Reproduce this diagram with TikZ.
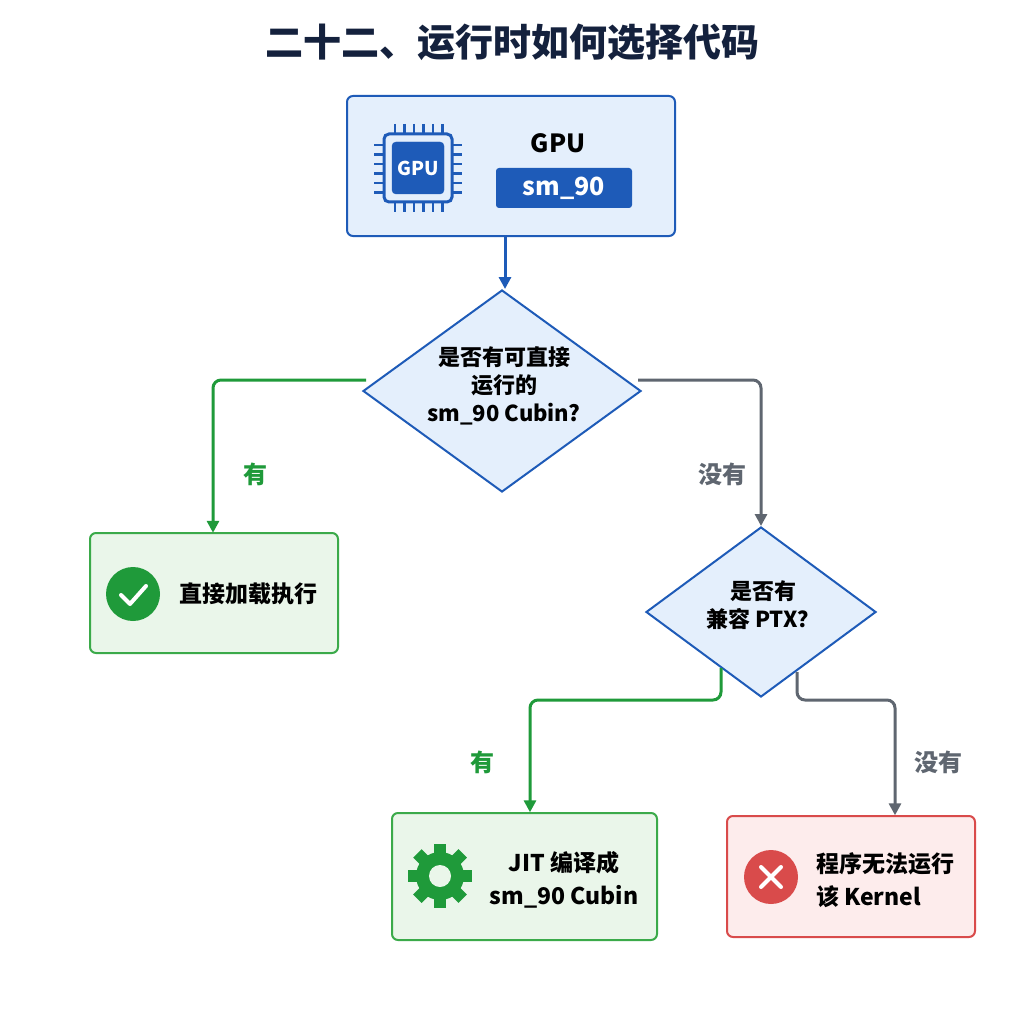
\documentclass[tikz,border=0pt]{standalone}
\usepackage{fontspec}
\setmainfont{Noto Sans CJK SC}
\usetikzlibrary{shapes.geometric,arrows.meta}
\definecolor{navy}{HTML}{14213D}
\definecolor{bfill}{HTML}{E4EFFC}
\definecolor{bline}{HTML}{1E5BB8}
\definecolor{gfill}{HTML}{EAF6EA}
\definecolor{gline}{HTML}{3BAA4A}
\definecolor{gdark}{HTML}{1F9A3A}
\definecolor{rfill}{HTML}{FDECEC}
\definecolor{rline}{HTML}{D94B4B}
\definecolor{gry}{HTML}{5F6670}
\begin{document}
\begin{tikzpicture}[x=1pt,y=-1pt,
 box/.style={draw,line width=2pt,rounded corners=6pt},
 dia/.style={diamond,draw=bline,fill=bfill,line width=2pt,aspect=1.38,inner sep=0pt},
 txt/.style={font=\bfseries\fontsize{22}{28}\selectfont,align=center,text=black},
 lab/.style={font=\bfseries\fontsize{24}{28}\selectfont},
 garr/.style={draw=gdark,line width=3pt,rounded corners=8pt,-{Triangle[length=12pt,width=12pt]}},
 rarr/.style={draw=gry,line width=3pt,rounded corners=8pt,-{Triangle[length=12pt,width=12pt]}}]
\useasboundingbox (0,0) rectangle (1024,1024);
\fill[white] (0,0) rectangle (1024,1024);
\node[font=\bfseries\fontsize{38}{44}\selectfont,text=navy] (title) at (512,42) {二十二、运行时如何选择代码};
% GPU box
\draw[box,draw=bline,fill=bfill] (347,96) rectangle (675,236);
\node[inner sep=0,minimum width=328pt,minimum height=140pt] (gpu) at (511,166) {};
% chip
\foreach \i in {0,...,5}{
 \draw[bline,line width=2.5pt] (395+\i*9.5,124)--(395+\i*9.5,212);
 \draw[bline,line width=2.5pt] (374,145+\i*9.5)--(462,145+\i*9.5);}
\draw[bline,fill=bfill,line width=3pt,rounded corners=5pt] (384,134) rectangle (452,202);
\draw[fill=bline,draw=bline,rounded corners=4pt] (392,142) rectangle (444,194);
\node[text=white,font=\bfseries\fontsize{19}{20}\selectfont] (chip) at (418,168) {GPU};
\node[font=\bfseries\fontsize{25}{28}\selectfont] (gt) at (558,143) {GPU};
\node[fill=bline,rounded corners=3pt,minimum width=136pt,minimum height=40pt,text=white,font=\bfseries\fontsize{25}{28}\selectfont] (sm) at (564,188) {sm\_90};
% diamond 1
\node[dia,minimum width=278pt,minimum height=202pt] (d1) at (502,391) {};
\node[txt] at (504,386) {是否有可直接\\运行的\\sm\_90 Cubin?};
\draw[draw=bline,line width=3pt,-{Triangle[length=12pt,width=12pt]}] (gpu.south -| 505,0) -- (d1.north -| 505,0);
\coordinate (d1l) at (366,380);
\coordinate (d1r) at (638,380);
% box 1
\draw[box,draw=gline,fill=gfill] (90,533) rectangle (338,653);
\node[minimum width=248pt,minimum height=120pt] (b1) at (214,593) {};
\fill[gdark] (133,594) circle (27);
\draw[white,line width=4pt,line cap=round,line join=round] (121,595)--(130,604)--(146,586);
\node[txt,font=\bfseries\fontsize{23}{28}\selectfont] at (248,594) {直接加载执行};
\draw[garr] (d1l) -| (b1.north -| 213,0);
\node[lab,text=gdark] at (255,474) {有};
% diamond 2
\node[dia,minimum width=230pt,minimum height=170pt] (d2) at (761,612) {};
\node[txt] at (763,605) {是否有\\兼容 PTX？};
\draw[rarr] (d1r) -| (d2.north);
\node[lab,text=gry] at (722,474) {没有};
% box 2
\draw[box,draw=gline,fill=gfill] (392,813) rectangle (657,940);
\node[minimum width=265pt,minimum height=127pt] (b2) at (524,876) {};
\begin{scope}[shift={(440,876)}]
 \foreach \a in {0,45,...,315}{\fill[gdark,rotate=\a] (-6,-32) rectangle (6,-18);}
 \fill[gdark] (0,0) circle (24);
 \fill[gfill] (0,0) circle (11);
\end{scope}
\node[txt,font=\bfseries\fontsize{23}{33}\selectfont] at (564,880) {JIT 编译成\\sm\_90 Cubin};
\coordinate (g2) at (721,668);
\draw[garr] (g2) -- (721,700) -| (b2.north -| 530,0);
\node[lab,text=gdark] at (482,762) {有};
% box 3
\draw[box,draw=rline,fill=rfill] (727,816) rectangle (975,937);
\node[minimum width=248pt,minimum height=121pt] (b3) at (851,876) {};
\fill[rline] (771,877) circle (27);
\draw[white,line width=4pt,line cap=round] (761,867)--(781,887) (781,867)--(761,887);
\node[txt,font=\bfseries\fontsize{23}{33}\selectfont,align=left] at (885,880) {程序无法运行\\该 Kernel};
\coordinate (r2) at (797,672);
\draw[rarr] (r2) -- (797,700) -| (b3.north -| 895,0);
\node[lab,text=gry] at (938,762) {没有};
\end{tikzpicture}
\end{document}
